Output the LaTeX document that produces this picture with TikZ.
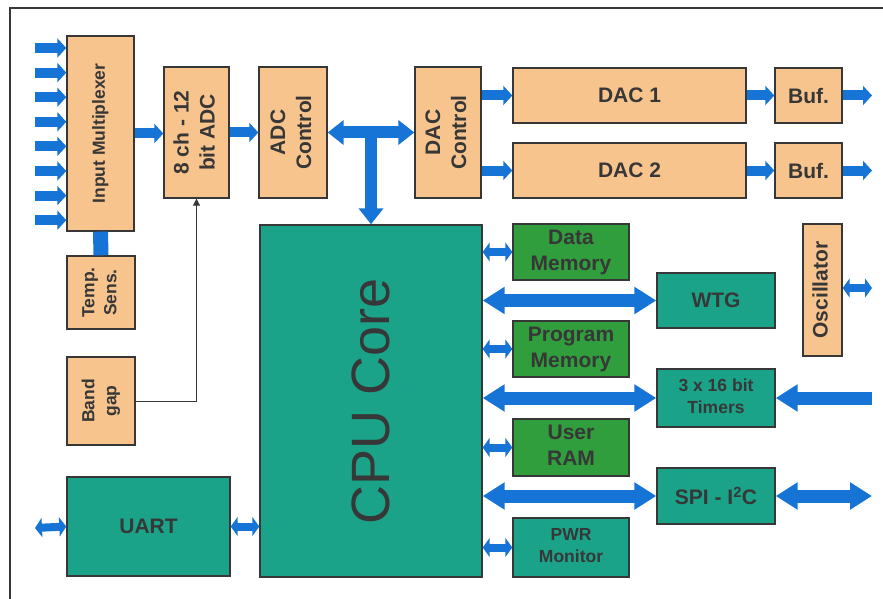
\documentclass[tikz,border=0pt]{standalone}
\usepackage{fontspec}
\setmainfont{Liberation Sans}
\usetikzlibrary{arrows.meta,calc}
\definecolor{boxorange}{RGB}{248,196,142}
\definecolor{coreteal}{RGB}{26,163,137}
\definecolor{memgreen}{RGB}{48,158,60}
\definecolor{busblue}{RGB}{22,116,214}
\definecolor{inkgray}{RGB}{55,55,55}
\newcommand{\vlab}[1]{\rotatebox{90}{\begin{tabular}{@{}c@{}}#1\end{tabular}}}

\begin{document}
\begin{tikzpicture}[x=1pt,y=-1pt,
    blk/.style={draw=inkgray,line width=1.4pt,inner sep=0pt,text=inkgray,font=\fontsize{21}{26}\selectfont\bfseries},
    ana/.style={blk,fill=boxorange},
    dig/.style={blk,fill=coreteal},
    mem/.style={blk,fill=memgreen},
    sml/.style={font=\fontsize{17.5}{22}\selectfont\bfseries},
    sig/.style={busblue,line width=10pt,-{Triangle[length=9pt,width=19pt]}},
    feed/.style={busblue,line width=13pt,-{Triangle[length=22pt,width=26pt]}},
    bus/.style={busblue,line width=13pt,{Triangle[length=22pt,width=26pt]}-{Triangle[length=22pt,width=26pt]}},
    tee/.style={busblue,line width=12pt,{Triangle[length=16pt,width=24pt]}-{Triangle[length=16pt,width=24pt]}},
    lnk/.style={busblue,line width=8pt,{Triangle[length=7pt,width=19pt]}-{Triangle[length=7pt,width=19pt]}}]
    \useasboundingbox (0,0) rectangle (883,599);
    \draw[inkgray,line width=2pt] (10,599) -- (10,8) -- (883,8);

    % analog front end
    \node[ana,sml,minimum width=67,minimum height=195] (mux) at (100.5,133.5) {\vlab{Input Multiplexer}};
    \node[ana,minimum width=65,minimum height=131] (adc) at (196.5,132.5) {\vlab{8 ch - 12\\bit ADC}};
    \node[ana,minimum width=68,minimum height=131] (adcctl) at (293,132.5) {\vlab{ADC\\Control}};
    \node[ana,minimum width=66,minimum height=131] (dacctl) at (448,132.5) {\vlab{DAC\\Control}};
    \node[ana,minimum width=233,minimum height=55] (dac1) at (629.5,95.5) {DAC 1};
    \node[ana,minimum width=233,minimum height=55] (dac2) at (629.5,170.5) {DAC 2};
    \node[ana,minimum width=67,minimum height=55] (buf1) at (808.5,95.5) {Buf.};
    \node[ana,minimum width=67,minimum height=55] (buf2) at (808.5,170.5) {Buf.};
    \node[ana,sml,minimum width=68,minimum height=73] (temp) at (101,292.5) {\vlab{Temp.\\Sens.}};
    \node[ana,sml,minimum width=68,minimum height=88] (bandgap) at (101,401) {\vlab{Band\\gap}};
    \node[ana,minimum width=39,minimum height=132] (osc) at (822.5,290) {\vlab{Oscillator}};

    % core and peripherals
    \node[dig,font=\fontsize{54}{60}\selectfont,minimum width=222,minimum height=352] (cpu) at (371,401) {\rotatebox{90}{CPU Core}};
    \node[mem,minimum width=116,minimum height=56] (datamem) at (571,252) {\begin{tabular}{@{}c@{}}Data\\Memory\end{tabular}};
    \node[mem,minimum width=116,minimum height=56] (progmem) at (571,349) {\begin{tabular}{@{}c@{}}Program\\Memory\end{tabular}};
    \node[mem,minimum width=116,minimum height=57] (userram) at (571,447.5) {\begin{tabular}{@{}c@{}}User\\RAM\end{tabular}};
    \node[dig,sml,minimum width=116,minimum height=59] (pwrmon) at (571,547.5) {\begin{tabular}{@{}c@{}}PWR\\Monitor\end{tabular}};
    \node[dig,minimum width=118,minimum height=55] (wtg) at (716,300.5) {WTG};
    \node[dig,sml,minimum width=118,minimum height=58] (timers) at (716,398) {\begin{tabular}{@{}c@{}}3 x 16 bit\\Timers\end{tabular}};
    \node[dig,minimum width=118,minimum height=56] (spi) at (716,496) {SPI - I\textsuperscript{2}C};
    \node[dig,minimum width=163,minimum height=99] (uart) at (148.5,526.5) {UART};

    % free ends
    \foreach \i in {0,...,7} \coordinate (in\i) at (35,48+24.6*\i);
    \coordinate (out1) at (872,95.5);
    \coordinate (out2) at (872,170.5);
    \coordinate (oscout) at (872,288);
    \coordinate (tin) at (872,398);
    \coordinate (spiout) at (872,496);
    \coordinate (uartin) at (35,528);
    \coordinate (busT) at ($(adcctl.east)!0.5!(dacctl.west)$);

    % signal flow
    \foreach \i in {0,...,7} \draw[sig] (in\i) -- (in\i -| mux.west);
    \draw[sig] (mux.east) -- (mux.east -| adc.west);
    \draw[sig] (adc.east) -- (adcctl.west);
    \draw[busblue,line width=15pt] (temp.north) -- (mux.south);
    \draw[inkgray,line width=1pt,-{Triangle[length=7pt,width=7pt]}] (bandgap.east) -| (adc.south);
    \draw[tee] (adcctl.east) -- (dacctl.west);
    \draw[tee,-{Triangle[length=16pt,width=24pt]}] (busT) -- (busT |- cpu.north);
    \draw[sig] (dacctl.east |- dac1) -- (dac1.west);
    \draw[sig] (dacctl.east |- dac2) -- (dac2.west);
    \draw[sig] (dac1.east) -- (buf1.west);
    \draw[sig] (dac2.east) -- (buf2.west);
    \draw[sig] (buf1.east) -- (out1);
    \draw[sig] (buf2.east) -- (out2);
    \draw[lnk] (osc.east |- oscout) -- (oscout);

    % cpu buses
    \draw[lnk] (cpu.east |- datamem) -- (datamem.west);
    \draw[lnk] (cpu.east |- progmem) -- (progmem.west);
    \draw[lnk] (cpu.east |- userram) -- (userram.west);
    \draw[lnk] (cpu.east |- pwrmon) -- (pwrmon.west);
    \draw[bus] (cpu.east |- wtg) -- (wtg.west);
    \draw[bus] (cpu.east |- timers) -- (timers.west);
    \draw[bus] (cpu.east |- spi) -- (spi.west);
    \draw[feed] (tin) -- (timers.east);
    \draw[bus] (spi.east) -- (spiout);
    \draw[lnk] (uartin) -- (uart.west);
    \draw[lnk] (uart.east) -- (uart.east -| cpu.west);
\end{tikzpicture}
\end{document}
